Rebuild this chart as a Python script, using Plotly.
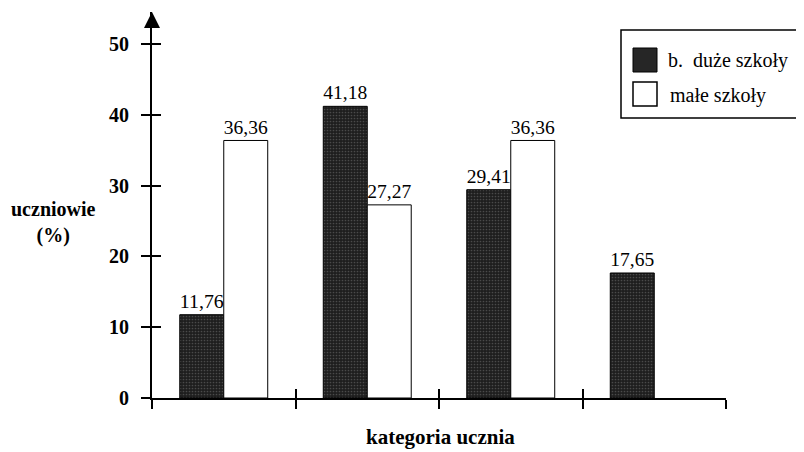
import plotly.graph_objects as go

# ---- data ----
categories = ["1", "2", "3", "4"]
duze_szkoly = [11.76, 41.18, 29.41, 17.65]
male_szkoly = [36.36, 27.27, 36.36, None]
series_names = ["b.  duże szkoły", "małe szkoły"]
y_ticks = [0, 10, 20, 30, 40, 50]
y_title = "uczniowie<br>(%)"
x_title = "kategoria ucznia"

# ---- layout geometry ----
# The page body has an 8px default margin, so the figure is drawn 8px
# smaller and every reference pixel position is shifted by that amount.
OFF = 8
W, H = 804 - OFF, 452 - OFF
PLOT_L, PLOT_R, PLOT_T, PLOT_B = 152, 726, 12, 398   # reference pixels
L, T = PLOT_L - OFF, PLOT_T - OFF
R, B = W - (PLOT_R - OFF), H - (PLOT_B - OFF)
pw, ph = W - L - R, H - T - B


def px(x):
    return (x - OFF - L) / pw


def py(y):
    return (H - B - (y - OFF)) / ph


FONT = "Liberation Serif"
DARK = "#1e1e1e"
SPECKLE = dict(shape=".", fgcolor="#4a4a4a", bgcolor=DARK, size=3,
               solidity=0.25, fillmode="replace")

fig = go.Figure()
fig.add_bar(
    x=categories, y=duze_szkoly, name=series_names[0],
    marker=dict(color=DARK, line=dict(color="black", width=1), pattern=SPECKLE),
    texttemplate="%{y:.2f}", textposition="outside",
    textfont=dict(family=FONT, size=20, color="black"), cliponaxis=False,
)
fig.add_bar(
    x=categories, y=male_szkoly, name=series_names[1],
    marker=dict(color="white", line=dict(color="black", width=1)),
    texttemplate="%{y:.2f}", textposition="outside",
    textfont=dict(family=FONT, size=20, color="black"), cliponaxis=False,
)
# helper trace for the overlaid axes that draw the inner half of the crossing ticks
fig.add_scatter(x=[None], y=[None], xaxis="x2", yaxis="y2",
                showlegend=False, hoverinfo="skip")

n = len(categories)
bounds = [i - 0.5 for i in range(n + 1)]
y_range = [0, 54.5]

fig.update_layout(
    width=W, height=H,
    margin=dict(l=L, r=R, t=T, b=B, pad=0),
    paper_bgcolor="white", plot_bgcolor="white",
    separators=", ",
    barmode="group", bargap=0.387, bargroupgap=0,
    showlegend=False,
    font=dict(family=FONT, color="black"),
    xaxis=dict(
        type="category", categoryorder="array", categoryarray=categories,
        range=[-0.5, n - 0.5], tickson="boundaries",
        showticklabels=False, ticks="outside", ticklen=9, tickwidth=1.5,
        tickcolor="black", showline=True, linecolor="black", linewidth=2,
        showgrid=False, zeroline=False,
    ),
    xaxis2=dict(
        overlaying="x", anchor="y2", range=[-0.5, n - 0.5],
        tickmode="array", tickvals=bounds, showticklabels=False,
        ticks="inside", ticklen=9, tickwidth=1.5, tickcolor="black",
        showline=False, showgrid=False, zeroline=False,
    ),
    yaxis=dict(
        range=y_range, tickmode="array", tickvals=y_ticks,
        tickfont=dict(family=FONT, size=20, color="black", weight="bold"),
        ticks="outside", ticklen=9, tickwidth=1.5, tickcolor="black",
        ticklabelstandoff=8,
        showline=True, linecolor="black", linewidth=2,
        showgrid=False, zeroline=False,
    ),
    yaxis2=dict(
        overlaying="y", anchor="x2", side="left", range=y_range,
        tickmode="array", tickvals=y_ticks, showticklabels=False,
        ticks="inside", ticklen=9, tickwidth=1.5, tickcolor="black",
        showline=False, showgrid=False, zeroline=False,
    ),
)

annotations = [
    # arrow on top of the y axis
    dict(xref="paper", yref="paper", x=0, y=1, ax=0, ay=16, text="",
         showarrow=True, arrowhead=2, arrowsize=1.6, arrowwidth=2,
         arrowcolor="black"),
    dict(xref="paper", yref="paper", x=px(53), y=py(223), text=y_title,
         showarrow=False, xanchor="center", yanchor="middle",
         font=dict(family=FONT, size=20, color="black", weight="bold")),
    dict(xref="paper", yref="paper", x=px(440), y=py(437), text=x_title,
         showarrow=False, xanchor="center", yanchor="middle",
         font=dict(family=FONT, size=21, color="black", weight="bold")),
    dict(xref="paper", yref="paper", x=px(666), y=py(60), text=series_names[0],
         showarrow=False, xanchor="left", yanchor="middle",
         font=dict(family=FONT, size=20, color="black")),
    dict(xref="paper", yref="paper", x=px(668), y=py(95), text=series_names[1],
         showarrow=False, xanchor="left", yanchor="middle",
         font=dict(family=FONT, size=20, color="black")),
]
shapes = [
    dict(type="rect", xref="paper", yref="paper", x0=px(621), x1=px(800),
         y0=py(30), y1=py(118), line=dict(color="black", width=1.5),
         fillcolor="white", layer="above"),
    dict(type="rect", xref="paper", yref="paper", x0=px(633), x1=px(657),
         y0=py(48), y1=py(72), line=dict(color="black", width=1),
         fillcolor="#262626", layer="above"),
    dict(type="rect", xref="paper", yref="paper", x0=px(633), x1=px(657),
         y0=py(82), y1=py(106), line=dict(color="black", width=1.5),
         fillcolor="white", layer="above"),
]
fig.update_layout(annotations=annotations, shapes=shapes)

fig.write_html("out.html")
